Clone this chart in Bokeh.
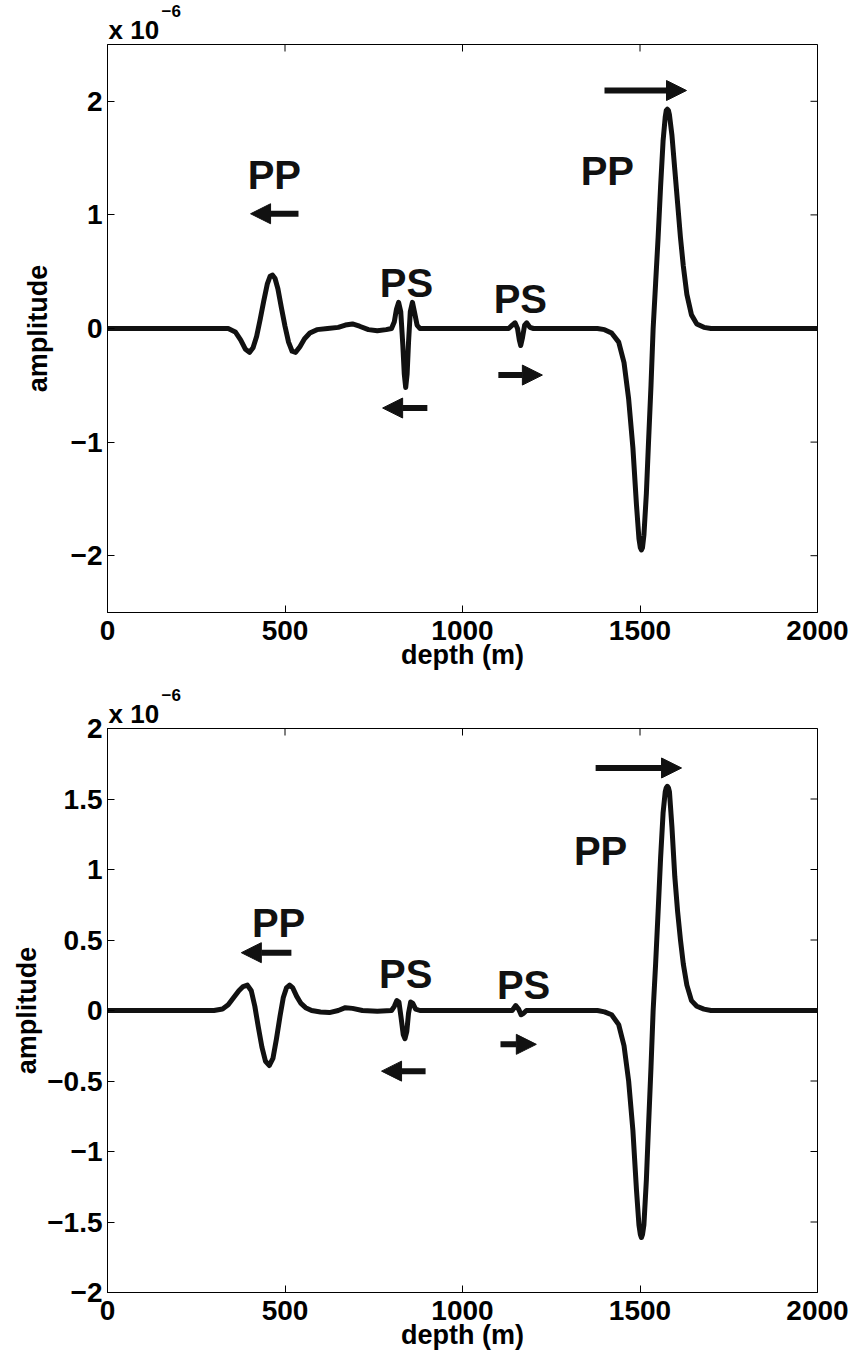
import math
from bokeh.plotting import figure
from bokeh.models import Range1d, FixedTicker, Label, Arrow, NormalHead, Title
from bokeh.layouts import column
from bokeh.embed import file_html
from bokeh.resources import INLINE

FONT = "Liberation Sans"
INK = "#111111"

# ---------------- data (amplitude in units of 1e-6) ----------------
depth_top = [0, 300, 340, 360, 375, 388, 400, 410, 420, 430, 440, 450, 458, 465, 472, 480,
             490, 500, 510, 520, 530, 542, 555, 570, 590, 620, 650, 670, 690, 710, 735, 760,
             785, 800, 808, 814, 820, 826, 832, 836, 840, 844, 848, 853, 859, 865, 872, 880,
             900, 1130, 1140, 1148, 1155, 1160, 1164, 1169, 1175, 1181, 1190, 1200, 1380,
             1400, 1420, 1440, 1455, 1468, 1480, 1490, 1497, 1501, 1504, 1507, 1511, 1518,
             1524, 1531, 1537, 1544, 1551, 1558, 1565, 1571, 1574, 1577, 1580, 1583, 1590,
             1598, 1606, 1614, 1622, 1632, 1645, 1660, 1680, 1700, 2000]
amp_top = [0, 0, 0, -0.03, -0.10, -0.18, -0.21, -0.17, -0.07, 0.08, 0.24, 0.39, 0.46, 0.47,
           0.44, 0.35, 0.18, 0.02, -0.12, -0.20, -0.21, -0.16, -0.09, -0.04, -0.01, 0, 0.01,
           0.03, 0.04, 0.02, -0.01, -0.02, -0.01, 0, 0.06, 0.17, 0.23, 0.15, -0.15, -0.40,
           -0.52, -0.40, -0.12, 0.15, 0.23, 0.14, 0.03, 0, 0, 0, 0.03, 0.05, 0, -0.10, -0.15,
           -0.08, 0.03, 0.05, 0.01, 0, 0, -0.01, -0.04, -0.12, -0.30, -0.62, -1.05, -1.55,
           -1.85, -1.93, -1.95, -1.93, -1.82, -1.45, -1.00, -0.50, 0.0, 0.40, 0.80, 1.25,
           1.65, 1.86, 1.92, 1.93, 1.92, 1.88, 1.70, 1.40, 1.10, 0.80, 0.55, 0.30, 0.12, 0.04,
           0.01, 0, 0]

depth_bot = [0, 300, 324, 340, 355, 370, 382, 394, 405, 415, 425, 435, 445, 456, 466, 476,
             486, 495, 504, 513, 522, 533, 545, 558, 575, 600, 625, 650, 670, 690, 718, 760,
             800, 808, 815, 821, 827, 833, 838, 843, 848, 854, 860, 868, 880, 1140, 1150,
             1158, 1165, 1172, 1180, 1380, 1400, 1420, 1440, 1455, 1468, 1480, 1490, 1497,
             1501, 1504, 1507, 1511, 1518, 1524, 1531, 1537, 1544, 1551, 1558, 1565, 1571,
             1574, 1577, 1580, 1583, 1590, 1598, 1606, 1614, 1622, 1632, 1645, 1660, 1680,
             1700, 2000]
amp_bot = [0, 0, 0.01, 0.04, 0.09, 0.14, 0.17, 0.18, 0.14, 0.03, -0.12, -0.26, -0.36, -0.39,
           -0.34, -0.20, -0.04, 0.09, 0.16, 0.18, 0.16, 0.10, 0.05, 0.02, 0, -0.01, -0.015, 0,
           0.02, 0.015, 0, -0.005, 0, 0.03, 0.07, 0.06, -0.05, -0.17, -0.20, -0.15, -0.02,
           0.06, 0.05, 0.01, 0, 0, 0.035, 0.01, -0.03, -0.02, 0, 0, -0.01, -0.03, -0.10,
           -0.25, -0.50, -0.85, -1.27, -1.52, -1.59, -1.61, -1.59, -1.52, -1.20, -0.82, -0.40,
           0.0, 0.33, 0.70, 1.08, 1.40, 1.55, 1.58, 1.59, 1.58, 1.55, 1.30, 0.95, 0.70, 0.50,
           0.33, 0.18, 0.07, 0.03, 0.01, 0, 0]

x_ticks = [0, 500, 1000, 1500, 2000]
x_tick_labels = ["0", "500", "1000", "1500", "2000"]
y_ticks_top = [-2, -1, 0, 1, 2]
y_tick_labels_top = ["\u22122", "\u22121", "0", "1", "2"]
y_ticks_bot = [-2, -1.5, -1, -0.5, 0, 0.5, 1, 1.5, 2]
y_tick_labels_bot = ["\u22122", "\u22121.5", "\u22121", "\u22120.5", "0", "0.5", "1", "1.5", "2"]

# wave annotations (data coordinates)
phase_names = ["PP", "PS", "PS", "PP"]
phase_x_top = [470, 842, 1163, 1408]
phase_y_top = [1.35, 0.40, 0.26, 1.39]
arrow_x0_top = [538, 901, 1101, 1400]
arrow_x1_top = [403, 775, 1225, 1631]
arrow_y_top = [1.01, -0.70, -0.41, 2.095]

phase_x_bot = [482, 840, 1172, 1389]
phase_y_bot = [0.62, 0.26, 0.18, 1.13]
arrow_x0_bot = [518, 896, 1107, 1375]
arrow_x1_bot = [377, 772, 1208, 1617]
arrow_y_bot = [0.41, -0.43, -0.24, 1.72]

PAGE_W = 855


def style_axis(ax, ticks, labels):
    ax.ticker = FixedTicker(ticks=ticks)
    ax.major_label_overrides = {t: l for t, l in zip(ticks, labels)}
    ax.major_tick_in = 7
    ax.major_tick_out = 0
    ax.minor_tick_line_color = None
    ax.axis_line_color = "black"
    ax.axis_line_width = 1
    ax.major_tick_line_color = "black"
    ax.major_tick_line_width = 1
    ax.major_label_text_font = FONT
    ax.major_label_text_font_style = "bold"
    ax.major_label_text_color = "black"
    ax.major_label_text_font_size = "28px"
    ax.axis_label_text_font = FONT
    ax.axis_label_text_font_style = "bold"
    ax.axis_label_text_font_size = "27px"
    ax.axis_label_text_color = "black"


def make_fig(depth, amp, yr, yticks, ylabels, frame_h, b_left, b_top, b_bottom,
             ylab_standoff, px, py, ax0, ax1, ay):
    p = figure(frame_width=710, frame_height=frame_h,
               x_range=Range1d(0, 2000), y_range=Range1d(*yr),
               output_backend="svg", toolbar_location=None, title=None,
               min_border_left=b_left, min_border_right=PAGE_W - 710 - b_left,
               min_border_top=b_top, min_border_bottom=b_bottom,
               background_fill_color="white", border_fill_color="white")
    p.grid.visible = False
    p.outline_line_color = "black"
    p.outline_line_width = 1

    style_axis(p.xaxis[0], x_ticks, x_tick_labels)
    style_axis(p.yaxis[0], yticks, ylabels)
    p.xaxis.major_label_standoff = 8
    p.yaxis.major_label_standoff = 5
    p.xaxis.axis_label = "depth (m)"
    p.xaxis.axis_label_standoff = -3
    p.yaxis.axis_label = "amplitude"
    p.yaxis.axis_label_standoff = ylab_standoff

    # mirrored inward ticks on the top and right edges (clipped to the frame)
    p.scatter(x_ticks, [yr[1]] * len(x_ticks), marker="dash", size=14, angle=math.pi / 2,
              line_color="black", line_width=1)
    p.scatter([2000] * len(yticks), yticks, marker="dash", size=14,
              line_color="black", line_width=1)

    p.line(depth, amp, line_width=5, line_color=INK, line_join="round", line_cap="round")

    for name, x, y in zip(phase_names, px, py):
        p.add_layout(Label(x=x, y=y, text=name, text_font=FONT, text_font_style="bold",
                           text_font_size="40px", text_color=INK, text_align="center",
                           text_baseline="alphabetic"))
    for x0, x1, y in zip(ax0, ax1, ay):
        p.add_layout(Arrow(end=NormalHead(size=20, fill_color=INK, line_color=INK),
                           x_start=x0, y_start=y, x_end=x1, y_end=y,
                           line_width=6, line_color=INK))

    # axis multiplier "x 10^-6"
    p.add_layout(Title(text="x 10", align="left", offset=1, standoff=0,
                       text_font=FONT, text_font_style="bold", text_font_size="26px",
                       text_color="black"), "above")
    p.add_layout(Title(text="\u22126", align="left", offset=54, standoff=-9,
                       text_font=FONT, text_font_style="bold", text_font_size="17px",
                       text_color="black"), "above")
    return p


p1 = make_fig(depth_top, amp_top, (-2.5, 2.5), y_ticks_top, y_tick_labels_top,
              568, 107, 44, 68, 15,
              phase_x_top, phase_y_top, arrow_x0_top, arrow_x1_top, arrow_y_top)
p2 = make_fig(depth_bot, amp_bot, (-2, 2), y_ticks_bot, y_tick_labels_bot,
              564, 104, 48, 72, 2,
              phase_x_bot, phase_y_bot, arrow_x0_bot, arrow_x1_bot, arrow_y_bot)

layout = column(p1, p2)
open("out.html", "w").write(file_html(layout, INLINE))
